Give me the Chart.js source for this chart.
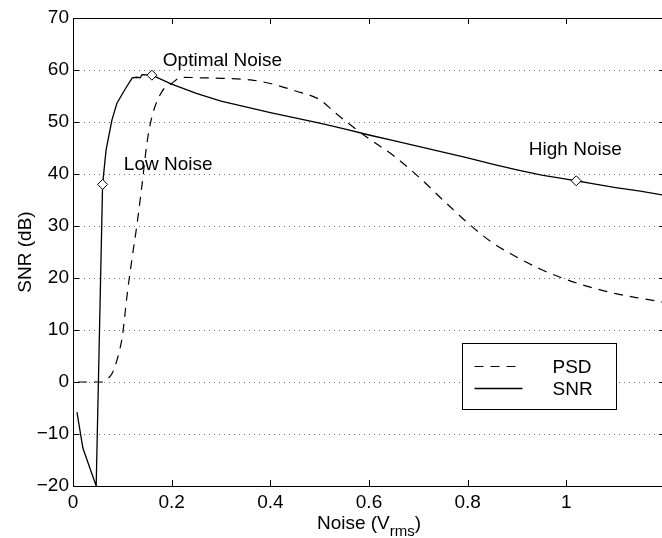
<!DOCTYPE html>
<html>
<head>
<meta charset="utf-8">
<script src="https://cdn.jsdelivr.net/npm/chart.js@4.4.0/dist/chart.umd.min.js"></script>
<style>
  html, body { margin: 0; padding: 0; background: #fff; overflow: hidden; }
  canvas { display: block; }
</style>
</head>
<body>
<canvas id="snrChart" width="700" height="538"></canvas>
<script>
// Values (x = noise in Vrms, y = SNR in dB)
const snrX = [0.008, 0.02, 0.047, 0.06, 0.067, 0.079, 0.089, 0.105, 0.12, 0.13, 0.136, 0.14, 0.16,
  0.2, 0.25, 0.3, 0.35, 0.4, 0.45, 0.5, 0.55, 0.6, 0.65, 0.7, 0.75, 0.8, 0.85, 0.9, 0.95, 1.0, 1.02,
  1.05, 1.1, 1.15, 1.2];
const snrY = [-5.8, -12.7, -20, 38, 44.6, 50.4, 53.6, 56.2, 58.5, 58.6, 58.5, 59.1, 59,
  57.3, 55.5, 54.0, 52.9, 51.8, 50.8, 49.8, 48.7, 47.5, 46.4, 45.3, 44.2, 43.1, 41.9, 40.8, 39.8, 39.0, 38.7,
  38.2, 37.4, 36.7, 35.9];

const psdX = [0.01, 0.06, 0.07, 0.08, 0.09, 0.1, 0.11, 0.12, 0.13, 0.14, 0.15, 0.16, 0.18, 0.2, 0.22,
  0.26, 0.3, 0.36, 0.4, 0.45, 0.5, 0.53, 0.56, 0.6, 0.65, 0.7, 0.75, 0.8, 0.85, 0.9, 0.95, 1.0,
  1.05, 1.1, 1.15, 1.2];
const psdY = [0, 0, 0.6, 1.8, 4.5, 8.8, 17, 24, 30.5, 38, 46, 51, 55.8, 57.4, 58.6,
  58.5, 58.4, 58.1, 57.4, 56.0, 54.3, 51.9, 49.6, 46.8, 43.5, 39.5, 35.0, 30.6, 26.8, 24.0, 21.6, 19.7,
  18.2, 17.0, 16.1, 15.3];

// diamond markers on the SNR curve
const markX = [0.06, 0.16, 1.02];
const markY = [38, 59, 38.7];

// text notes, anchored at (x, y) in data units
const noteText = ["Low Noise", "Optimal Noise", "High Noise"];
const noteX = [0.103, 0.182, 0.924];
const noteY = [40.8, 60.8, 43.6];

// axis ticks (1.2 sits on the cut-off right edge, so it gets no label)
const xTickVals = [0, 0.2, 0.4, 0.6, 0.8, 1, 1.2];
const xTickText = ["0", "0.2", "0.4", "0.6", "0.8", "1", ""];

const seriesNames = ["PSD", "SNR"];

const FONT = '"Liberation Sans", Arial, Helvetica, sans-serif';
Chart.defaults.font.family = FONT;
Chart.defaults.font.size = 19;
Chart.defaults.color = "#000";

function toPoints(xs, ys) {
  return xs.map((v, i) => ({ x: v, y: ys[i] }));
}

// box frame, inward ticks, notes, legend and the x title with subscript
const extras = {
  id: "extras",
  afterDraw(chart) {
    const { ctx, chartArea: a, scales: { x, y } } = chart;
    ctx.save();
    ctx.strokeStyle = "#000";
    ctx.lineWidth = 1;
    ctx.setLineDash([]);
    ctx.beginPath();
    ctx.moveTo(a.left, a.top + 0.5);
    ctx.lineTo(a.right + 0.5, a.top + 0.5);
    ctx.lineTo(a.right + 0.5, a.bottom);
    ctx.stroke();

    ctx.beginPath();
    x.ticks.forEach(t => {
      const px = Math.round(x.getPixelForValue(t.value)) + 0.5;
      ctx.moveTo(px, a.bottom);
      ctx.lineTo(px, a.bottom - 6);
      ctx.moveTo(px, a.top);
      ctx.lineTo(px, a.top + 6);
    });
    y.ticks.forEach(t => {
      const py = Math.round(y.getPixelForValue(t.value)) + 0.5;
      ctx.moveTo(a.left, py);
      ctx.lineTo(a.left + 6, py);
      ctx.moveTo(a.right, py);
      ctx.lineTo(a.right - 6, py);
    });
    ctx.stroke();

    // notes
    ctx.fillStyle = "#000";
    ctx.font = "19px " + FONT;
    ctx.textAlign = "left";
    ctx.textBaseline = "alphabetic";
    noteText.forEach((txt, i) => {
      ctx.fillText(txt, x.getPixelForValue(noteX[i]), y.getPixelForValue(noteY[i]));
    });

    // legend box
    const bx = a.left + 389.5, by = a.top + 325.5, bw = 154, bh = 66;
    ctx.fillStyle = "#fff";
    ctx.fillRect(bx, by, bw, bh);
    ctx.strokeRect(bx, by, bw, bh);
    seriesNames.forEach((name, i) => {
      const ds = chart.data.datasets.find(d => d.label === name);
      const ly = by + 23 + i * 22;
      ctx.save();
      ctx.strokeStyle = ds.borderColor;
      ctx.lineWidth = ds.borderWidth;
      ctx.setLineDash(ds.borderDash || []);
      ctx.beginPath();
      ctx.moveTo(bx + 12, ly);
      ctx.lineTo(bx + 60, ly);
      ctx.stroke();
      ctx.restore();
      ctx.fillStyle = "#000";
      ctx.font = "19px " + FONT;
      ctx.textBaseline = "middle";
      ctx.fillText(name, bx + 90, ly + 1);
    });

    // x axis title: Noise (V_rms)
    const big = "19px " + FONT, small = "15px " + FONT;
    ctx.textBaseline = "alphabetic";
    ctx.font = big;
    const w1 = ctx.measureText("Noise (V").width;
    const w3 = ctx.measureText(")").width;
    ctx.font = small;
    const w2 = ctx.measureText("rms").width;
    let sx = (a.left + a.right) / 2 - (w1 + w2 + w3) / 2;
    const base = a.bottom + 43;
    ctx.fillStyle = "#000";
    ctx.font = big;
    ctx.fillText("Noise (V", sx, base);
    ctx.font = small;
    ctx.fillText("rms", sx + w1, base + 7);
    ctx.font = big;
    ctx.fillText(")", sx + w1 + w2, base);
    ctx.restore();
  }
};

const ctx = document.getElementById("snrChart");

new Chart(ctx, {
  type: "line",
  data: {
    datasets: [
      {
        label: "markers",
        data: toPoints(markX, markY),
        showLine: false,
        pointStyle: "rectRot",
        pointRadius: 5,
        pointBackgroundColor: "#fff",
        pointBorderColor: "#000",
        pointBorderWidth: 1,
        order: 0
      },
      {
        label: "PSD",
        data: toPoints(psdX, psdY),
        borderColor: "#000",
        borderWidth: 1.2,
        borderDash: [9, 7],
        pointRadius: 0,
        cubicInterpolationMode: "monotone",
        fill: false,
        order: 1
      },
      {
        label: "SNR",
        data: toPoints(snrX, snrY),
        borderColor: "#000",
        borderWidth: 1.3,
        pointRadius: 0,
        tension: 0,
        fill: false,
        order: 1
      }
    ]
  },
  options: {
    responsive: false,
    animation: false,
    devicePixelRatio: 1,
    layout: { padding: { left: 0, right: 35, top: 18, bottom: 0 } },
    plugins: {
      legend: { display: false },
      tooltip: { enabled: false }
    },
    scales: {
      x: {
        type: "linear",
        min: 0,
        max: 1.2,
        afterBuildTicks: (scale) => {
          scale.ticks = xTickVals.map(v => ({ value: v }));
        },
        afterFit: (scale) => { scale.height = 52; },
        grid: { display: false, drawTicks: false },
        border: { display: true, color: "#000", width: 1 },
        ticks: {
          padding: 5,
          maxRotation: 0,
          autoSkip: false,
          callback: (v, i) => xTickText[i]
        }
      },
      y: {
        min: -20,
        max: 70,
        afterFit: (scale) => { scale.width = 73; },
        grid: { color: "rgba(0,0,0,0.55)", lineWidth: 1, drawTicks: false },
        border: { display: true, color: "#000", width: 1, dash: [1, 4] },
        ticks: {
          stepSize: 10,
          padding: 4,
          callback: (v) => (v < 0 ? "\u2212" + (-v) : String(v))
        },
        title: {
          display: true,
          text: "SNR (dB)",
          font: { size: 19 },
          padding: { top: 14, bottom: 0 }
        }
      }
    }
  },
  plugins: [extras]
});
</script>
</body>
</html>
